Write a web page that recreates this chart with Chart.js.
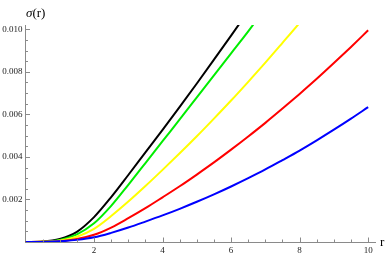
<!DOCTYPE html>
<html>
<head>
<meta charset="utf-8">
<script src="https://cdn.jsdelivr.net/npm/chart.js@4"></script>
<style>
html,body{margin:0;padding:0;background:#fff;}
#wrap{width:390px;height:257px;}
</style>
</head>
<body>
<div id="wrap"><canvas id="c" width="390" height="257"></canvas></div>
<script>
// Sample radii (x values)
const rValues = [0,0.5,1,1.5,2,2.5,3,3.5,4,4.5,5,5.5,6,6.5,7,7.5,8,8.5,9,9.5,10];
// sigma(r) series (null = beyond the top of the plot)
const sigmaBlack  = [0,0.00002,0.00014,0.00048,0.00117,0.00211,0.00315,0.00421,0.00527,0.00635,0.00745,0.00857,0.0097,0.01085,null,null,null,null,null,null,null];
const sigmaGreen  = [0,0.000015,0.0001,0.00036,0.00088,0.0017,0.00269,0.00371,0.00474,0.00576,0.0068,0.00783,0.00887,0.0099,0.0110,null,null,null,null,null,null];
const sigmaYellow = [0,0.00001,0.00007,0.00025,0.00062,0.00122,0.0019,0.00263,0.00339,0.00417,0.00497,0.0058,0.00665,0.00753,0.00843,0.00936,0.0103,0.01128,null,null,null];
const sigmaRed    = [0,0.000006,0.00004,0.00014,0.00034,0.00068,0.00112,0.00159,0.0021,0.00262,0.00317,0.00374,0.00434,0.00496,0.0056,0.00627,0.00696,0.00767,0.00841,0.00917,0.00995];
const sigmaBlue   = [0,0.000004,0.00003,0.0001,0.00022,0.00043,0.00068,0.00096,0.00125,0.00156,0.00189,0.00224,0.00261,0.003,0.00341,0.00385,0.0043,0.00478,0.00528,0.0058,0.00634];
// Axis tick labels
const xTickLabels = ["2","4","6","8","10"];
const yTickLabels = ["0.002","0.004","0.006","0.008","0.010"];

function pts(vals){
  const out=[];
  for(let i=0;i<rValues.length;i++){ if(vals[i]!==null) out.push({x:rValues[i],y:vals[i]}); }
  return out;
}
const AXIS='#8a8a8a';
const FONT='"Liberation Serif", "Times New Roman", serif';

const tickPlugin={
  id:'mmaTicks',
  afterDraw(chart){
    const ctx=chart.ctx, xs=chart.scales.x, ys=chart.scales.y;
    const x0=xs.getPixelForValue(0), y0=ys.getPixelForValue(0);
    ctx.save();
    ctx.strokeStyle=AXIS; ctx.lineWidth=1;
    ctx.beginPath();
    for(let v=0.5; v<=10.01; v+=0.5){
      const px=Math.round(xs.getPixelForValue(v))+0.5;
      const major=Math.abs(v/2-Math.round(v/2))<1e-6;
      const len=major?4.5:2.5;
      ctx.moveTo(px,y0); ctx.lineTo(px,y0-len);
    }
    for(let k=1;k<=20;k++){
      const v=k*0.0005;
      const py=Math.round(ys.getPixelForValue(v))+0.5;
      const major=(k%4===0);
      const len=major?4.5:2.5;
      ctx.moveTo(x0,py); ctx.lineTo(x0+len,py);
    }
    ctx.stroke();
    ctx.fillStyle='#000';
    ctx.textBaseline='alphabetic';
    ctx.textAlign='left';
    ctx.font='italic 13px '+FONT;
    ctx.fillText('σ',26,17);
    const w=ctx.measureText('σ').width;
    ctx.font='13px '+FONT;
    ctx.fillText('(r)',26+w,17);
    ctx.fillText('r',380,246);
    ctx.restore();
  }
};

const ds=(label,data,color,order)=>({label,data:pts(data),borderColor:color,backgroundColor:color,borderWidth:2,pointRadius:0,fill:false,cubicInterpolationMode:'monotone',order});

new Chart(document.getElementById('c'),{
  type:'line',
  data:{datasets:[
    ds('black',sigmaBlack,'#000000',5),
    ds('green',sigmaGreen,'#00ee00',4),
    ds('yellow',sigmaYellow,'#ffff00',3),
    ds('red',sigmaRed,'#ff0000',2),
    ds('blue',sigmaBlue,'#0000ff',1)
  ]},
  options:{
    responsive:false,animation:false,
    layout:{padding:{left:0,right:15,top:25,bottom:0}},
    plugins:{legend:{display:false},tooltip:{enabled:false}},
    scales:{
      x:{type:'linear',min:0,max:10.2,
        grid:{display:false,drawTicks:false},
        border:{display:true,color:AXIS,width:1},
        afterFit(s){s.height=15;},
        ticks:{stepSize:2,includeBounds:false,padding:3,color:'#222',font:{family:FONT,size:9},maxRotation:0,autoSkip:false,
          callback(v){const i=Math.round(v/2)-1; return (Math.abs(v/2-Math.round(v/2))<1e-6 && i>=0 && i<xTickLabels.length)?xTickLabels[i]:'';}}
      },
      y:{type:'linear',min:0,max:0.0102,
        grid:{display:false,drawTicks:false},
        border:{display:true,color:AXIS,width:1},
        afterFit(s){s.width=25.5;},
        ticks:{stepSize:0.002,includeBounds:false,padding:3,color:'#222',font:{family:FONT,size:9},autoSkip:false,
          callback(v){const i=Math.round(v/0.002)-1; return (Math.abs(v/0.002-Math.round(v/0.002))<1e-6 && i>=0 && i<yTickLabels.length)?yTickLabels[i]:'';}}
      }
    }
  },
  plugins:[tickPlugin]
});
</script>
</body>
</html>
